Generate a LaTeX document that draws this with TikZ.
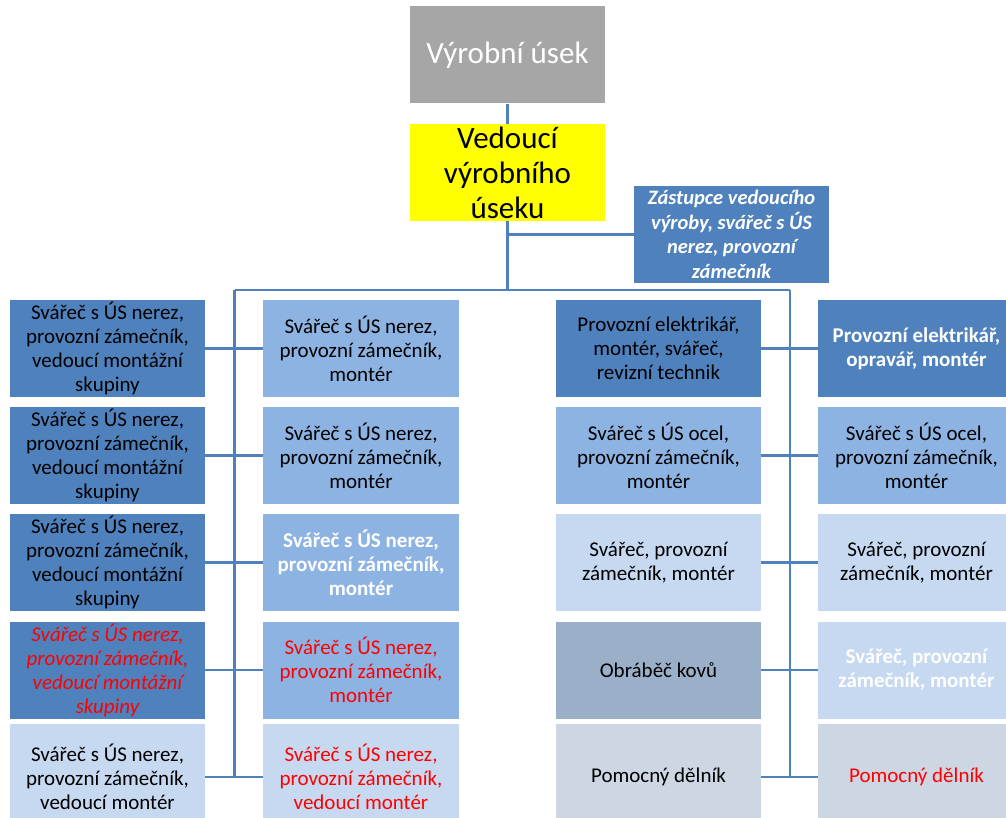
\documentclass[tikz,border=0pt]{standalone}
\usepackage{fontspec}
\setmainfont{Carlito}
\definecolor{dkb}{HTML}{4F81BD}
\definecolor{mdb}{HTML}{8DB3E2}
\definecolor{ltb}{HTML}{C6D9F1}
\definecolor{gry}{HTML}{A6A6A6}
\definecolor{obr}{HTML}{9AB0C8}
\definecolor{pom}{HTML}{CDD7E4}
\definecolor{rd}{HTML}{FF0000}
\definecolor{yel}{HTML}{FFFF00}
\begin{document}
\begin{tikzpicture}[x=1pt,y=-1pt,
  cell/.style={minimum height=97pt, inner sep=0pt, align=center,
    font=\fontsize{21}{24}\selectfont},
  w1/.style={cell, minimum width=195pt},
  w2/.style={cell, minimum width=196pt},
  w3/.style={cell, minimum width=205pt},
  w4/.style={cell, minimum width=197pt},
  link/.style={draw=dkb, line width=2.4pt}]
\useasboundingbox (0,0) rectangle (1006,818);
\clip (0,0) rectangle (1006,818);
% top
\node[w1, fill=gry, text=white, font=\fontsize{31}{35}\selectfont] (top) at (507.5,55) {Výrobní úsek};
\node[w1, fill=yel, font=\fontsize{31}{35}\selectfont] (ved) at (507.5,172.5) {Vedoucí\\výrobního\\úseku};
\node[w1, fill=dkb, text=white, font=\fontsize{20.5}{24.5}\selectfont\bfseries\itshape] (asst) at (731.5,234.5) {Zástupce vedoucího\\výroby, svářeč s ÚS\\nerez, provozní\\zámečník};
\coordinate (L) at (234.5,290);
\coordinate (R) at (790,290);
% column 1
\node[w1, fill=dkb] (a1) at (107.5,348.5) {Svářeč s ÚS nerez,\\provozní zámečník,\\vedoucí montážní\\skupiny};
\node[w1, fill=dkb] (a2) at (107.5,455.5) {Svářeč s ÚS nerez,\\provozní zámečník,\\vedoucí montážní\\skupiny};
\node[w1, fill=dkb] (a3) at (107.5,562.5) {Svářeč s ÚS nerez,\\provozní zámečník,\\vedoucí montážní\\skupiny};
\node[w1, fill=dkb, text=rd, font=\fontsize{21}{24}\selectfont\itshape] (a4) at (107.5,670) {Svářeč s ÚS nerez,\\provozní zámečník,\\vedoucí montážní\\skupiny};
\node[w1, fill=ltb, minimum height=106pt] (a5) at (107.5,777) {Svářeč s ÚS nerez,\\provozní zámečník,\\vedoucí montér};
% column 2
\node[w2, fill=mdb] (b1) at (361,348.5) {Svářeč s ÚS nerez,\\provozní zámečník,\\montér};
\node[w2, fill=mdb] (b2) at (361,455.5) {Svářeč s ÚS nerez,\\provozní zámečník,\\montér};
\node[w2, fill=mdb, text=white, font=\fontsize{21}{24}\selectfont\bfseries] (b3) at (361,562.5) {Svářeč s ÚS nerez,\\provozní zámečník,\\montér};
\node[w2, fill=mdb, text=rd] (b4) at (361,670) {Svářeč s ÚS nerez,\\provozní zámečník,\\montér};
\node[w2, fill=ltb, text=rd, minimum height=106pt] (b5) at (361,777) {Svářeč s ÚS nerez,\\provozní zámečník,\\vedoucí montér};
% column 3
\node[w3, fill=dkb] (c1) at (658.5,348.5) {Provozní elektrikář,\\montér, svářeč,\\revizní technik};
\node[w3, fill=mdb] (c2) at (658.5,455.5) {Svářeč s ÚS ocel,\\provozní zámečník,\\montér};
\node[w3, fill=ltb] (c3) at (658.5,562.5) {Svářeč, provozní\\zámečník, montér};
\node[w3, fill=obr] (c4) at (658.5,670) {Obráběč kovů};
\node[w3, fill=pom, minimum height=106pt] (c5) at (658.5,777) {Pomocný dělník};
% column 4
\node[w4, fill=dkb, text=white, font=\fontsize{21}{24}\selectfont\bfseries] (d1) at (916.5,348.5) {Provozní elektrikář,\\opravář, montér};
\node[w4, fill=mdb] (d2) at (916.5,455.5) {Svářeč s ÚS ocel,\\provozní zámečník,\\montér};
\node[w4, fill=ltb] (d3) at (916.5,562.5) {Svářeč, provozní\\zámečník, montér};
\node[w4, fill=ltb, text=white, font=\fontsize{21}{24}\selectfont\bfseries] (d4) at (916.5,670) {Svářeč, provozní\\zámečník, montér};
\node[w4, fill=pom, text=rd, minimum height=106pt] (d5) at (916.5,777) {Pomocný dělník};
% connectors
\draw[link] (top.south) -- (ved.north);
\draw[link] (ved.south) -- (ved.south |- L);
\draw[link] (ved.south |- asst.west) -- (asst.west);
\draw[link] (L) -- (R);
\draw[link] (L) -- (L |- a5.east);
\draw[link] (R) -- (R |- c5.east);
\foreach \i in {1,...,5}{
  \draw[link] (a\i.east) -- (b\i.west);
  \draw[link] (c\i.east) -- (d\i.west);
}
\end{tikzpicture}
\end{document}
